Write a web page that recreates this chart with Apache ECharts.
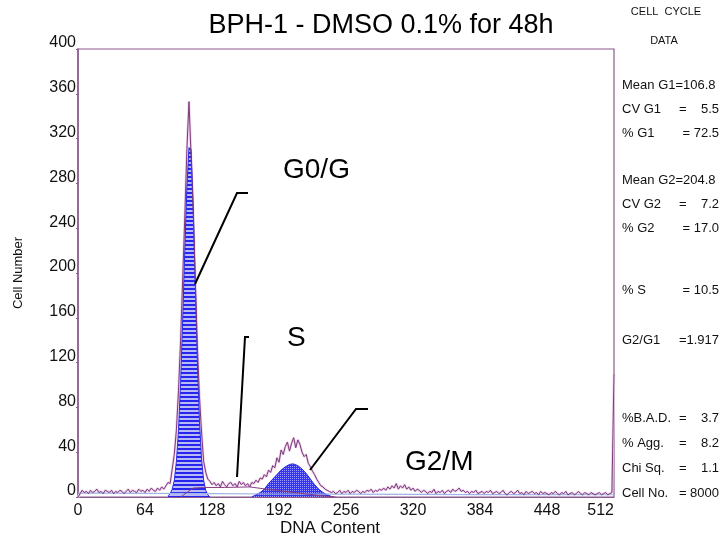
<!DOCTYPE html>
<html>
<head>
<meta charset="utf-8">
<script src="https://cdn.jsdelivr.net/npm/echarts@6/dist/echarts.min.js"></script>
<style>
  html, body { margin: 0; padding: 0; background: #fff; }
  #chart { width: 725px; height: 541px; }
</style>
</head>
<body>
<div id="chart"></div>
<script>
// ---- Histogram data (DNA content channels, 2-channel bins) ----
const CHANNEL_STEP = 2;
const rawCounts = [
  0, 3, 6, 4, 5, 3, 6, 4, 5, 7, 4, 5, 3, 6, 5, 4,            // 0-30
  6, 3, 5, 4, 6, 5, 3, 5, 7, 4, 6, 5, 4, 7, 5, 6,            // 32-62
  4, 7, 5, 8, 6, 5, 8, 6, 9, 7, 10, 13, 12, 25, 38, 60,      // 64-94
  95, 140, 195, 250, 310, 353, 305, 255, 195, 135, 90, 58, 32, 22, 16, 14, // 96-126
  11, 13, 10, 12, 9, 14, 11, 9, 12, 13, 10, 12, 9, 14, 11, 13, // 128-158
  10, 12, 9, 13, 12, 15, 13, 17, 16, 20, 18, 24, 22, 28, 26, 35, // 160-190
  31, 42, 38, 45, 49, 41, 48, 53, 44, 51, 47, 40, 36, 38, 30, 27, // 192-222
  23, 20, 16, 13, 10, 9, 7, 6, 5, 4, 5, 3, 4, 6, 3, 5,       // 224-254
  4, 6, 3, 5, 4, 6, 5, 3, 5, 4, 6, 5, 7, 4, 6, 5,            // 256-286
  7, 6, 8, 6, 9, 7, 10, 8, 12, 7, 10, 8, 11, 7, 9, 6,        // 288-318
  8, 5, 7, 6, 4, 6, 5, 3, 5, 4, 7, 3, 5, 4, 6, 3,            // 320-350
  5, 6, 4, 7, 5, 6, 8, 5, 6, 4, 5, 3, 5, 4, 6, 3,            // 352-382
  4, 5, 3, 5, 4, 6, 3, 4, 5, 3, 4, 6, 3, 2, 4, 5,            // 384-414
  3, 4, 6, 3, 4, 2, 5, 3, 4, 5, 3, 4, 2, 5, 3, 4,            // 416-446
  3, 2, 4, 3, 5, 3, 2, 4, 3, 5, 2, 3, 4, 2, 3, 5,            // 448-478
  3, 2, 4, 3, 2, 4, 3, 2, 3, 4, 2, 3, 4, 2, 3, 4,            // 480-510
  110                                                        // 512
];
const rawChannels = rawCounts.map((_, i) => i * CHANNEL_STEP);

// G0/G1 model peak
const g1Channels = [86, 88, 90, 92, 94, 96, 98, 100, 102, 104, 106, 108, 110, 112, 114, 116, 118, 120, 122, 124, 126];
const g1Counts   = [1, 3, 7, 15, 32, 60, 102, 158, 220, 276, 312, 310, 262, 192, 122, 68, 34, 15, 6, 2, 0];

// G2/M model peak
const g2Channels = [166, 170, 174, 178, 182, 186, 190, 194, 198, 202, 204, 206, 210, 214, 218, 222, 226, 230, 234, 238, 242, 244];
const g2Counts   = [0, 2, 4, 7, 12, 16, 20, 24, 27, 29, 29.5, 29.5, 28, 25, 21, 16, 11, 7, 4, 2, 0.5, 0];

// S-phase model
const sChannels = [98, 104, 110, 120, 140, 164, 180, 200, 220, 240, 246];
const sCounts   = [0, 4, 8, 8.5, 8.5, 9, 7, 4.8, 2.4, 0.3, 0];

// Debris baseline
const debrisChannels = [0, 64, 128, 192, 256, 320, 384, 448, 512];
const debrisCounts   = [3.5, 3.2, 3.0, 2.7, 2.5, 2.3, 2.2, 2.1, 2.0];

// Axis ticks
const xTickLabels = [0, 64, 128, 192, 256, 320, 384, 448, 512];
const yTickLabels = [0, 40, 80, 120, 160, 200, 240, 280, 320, 360, 400];

// Side panel statistics
const statTitle = ['CELL  CYCLE', 'DATA'];
const statLabels = ['Mean G1=106.8', 'CV G1', '% G1', 'Mean G2=204.8', 'CV G2', '% G2',
                    '% S', 'G2/G1', '%B.A.D.', '% Agg.', 'Chi Sq.', 'Cell No.'];
const statValues = ['', '=    5.5', '= 72.5', '', '=    7.2', '= 17.0',
                    '= 10.5', '=1.917', '=    3.7', '=    8.2', '=    1.1', '= 8000'];

const pair = (xs, ys) => xs.map((x, i) => [x, ys[i]]);

// ---- Fill patterns ----
function stripePattern() {
  const c = document.createElement('canvas');
  c.width = 4; c.height = 4;
  const g = c.getContext('2d');
  g.fillStyle = '#b9b9f6'; g.fillRect(0, 0, 4, 4);
  g.fillStyle = '#2626ee'; g.fillRect(0, 0, 4, 2);
  return c;
}
function dotPattern() {
  const c = document.createElement('canvas');
  c.width = 2; c.height = 2;
  const g = c.getContext('2d');
  g.fillStyle = '#3434f2'; g.fillRect(0, 0, 2, 2);
  g.fillStyle = '#9c9cff'; g.fillRect(0, 0, 1, 1);
  return c;
}

const FONT = '"Liberation Sans", Arial, Helvetica, sans-serif';
const FRAME = '#8c5a8e';

const chart = echarts.init(document.getElementById('chart'), null, { renderer: 'canvas' });

// side panel text
const panelY = [85, 109, 133, 180, 204, 228, 290, 340, 418, 443, 468, 493];
const panelGraphics = [];
panelGraphics.push({ type: 'text', x: 666, y: 12, style: { text: statTitle[0], font: '11px ' + FONT, fill: '#111', align: 'center', verticalAlign: 'middle' } });
panelGraphics.push({ type: 'text', x: 664, y: 41, style: { text: statTitle[1], font: '11px ' + FONT, fill: '#111', align: 'center', verticalAlign: 'middle' } });
statLabels.forEach((t, i) => {
  panelGraphics.push({ type: 'text', x: 622, y: panelY[i], style: { text: t, font: '13px ' + FONT, fill: '#111', align: 'left', verticalAlign: 'middle' } });
  if (statValues[i]) {
    panelGraphics.push({ type: 'text', x: 719, y: panelY[i], style: { text: statValues[i], font: '13px ' + FONT, fill: '#111', align: 'right', verticalAlign: 'middle' } });
  }
});

// phase annotations with leader lines
const annot = [
  { text: 'G0/G', x: 283, y: 170, pts: [[195, 284], [237, 193], [248, 193]] },
  { text: 'S',    x: 287, y: 338, pts: [[237, 477], [245, 337], [249, 337]] },
  { text: 'G2/M', x: 405, y: 462, pts: [[310, 470], [356, 409], [368, 409]] }
];
const annotGraphics = [];
annot.forEach(a => {
  annotGraphics.push({ type: 'polyline', z: 100, shape: { points: a.pts }, style: { stroke: '#000', lineWidth: 2, fill: null } });
  annotGraphics.push({ type: 'text', z: 100, x: a.x, y: a.y, style: { text: a.text, font: '28px ' + FONT, fill: '#000', align: 'left', verticalAlign: 'middle' } });
});

const option = {
  animation: false,
  backgroundColor: '#ffffff',
  grid: { left: 78, right: 111, top: 49, bottom: 44, show: true, borderColor: FRAME, borderWidth: 1.2, backgroundColor: 'transparent' },
  xAxis: {
    type: 'value',
    min: xTickLabels[0], max: xTickLabels[xTickLabels.length - 1],
    interval: xTickLabels[1] - xTickLabels[0],
    axisLine: { show: true, lineStyle: { color: FRAME, width: 1.2 } },
    axisTick: { show: false },
    splitLine: { show: false },
    axisLabel: { fontSize: 16, fontFamily: FONT, color: '#111', margin: 6, alignMaxLabel: 'right' }
  },
  yAxis: {
    type: 'value',
    min: yTickLabels[0], max: yTickLabels[yTickLabels.length - 1],
    interval: yTickLabels[1] - yTickLabels[0],
    axisLine: { show: true, lineStyle: { color: FRAME, width: 1.5 } },
    axisTick: { show: true, length: 2, lineStyle: { color: FRAME } },
    splitLine: { show: false },
    axisLabel: { fontSize: 16, fontFamily: FONT, color: '#111', margin: 2, verticalAlign: 'bottom', lineHeight: 12 }
  },
  series: [
    { // halo under raw histogram
      type: 'line', data: pair(rawChannels, rawCounts), symbol: 'none', silent: true, z: 1,
      lineStyle: { color: '#ecd0ea', width: 2.5 }
    },
    {
      name: 'G1', type: 'line', data: pair(g1Channels, g1Counts), symbol: 'none', z: 2,
      lineStyle: { color: '#2a2ae6', width: 1 },
      areaStyle: { color: { image: stripePattern(), repeat: 'repeat' }, opacity: 1 }
    },
    {
      name: 'G2', type: 'line', data: pair(g2Channels, g2Counts), symbol: 'none', z: 2,
      lineStyle: { color: '#2a2ae6', width: 1 },
      areaStyle: { color: { image: dotPattern(), repeat: 'repeat' }, opacity: 1 }
    },
    {
      name: 'Debris', type: 'line', data: pair(debrisChannels, debrisCounts), symbol: 'none', z: 3,
      lineStyle: { color: '#9fb4e6', width: 1.2 }
    },
    {
      name: 'S', type: 'line', data: pair(sChannels, sCounts), symbol: 'none', z: 4,
      lineStyle: { color: '#8a3f82', width: 1 }
    },
    {
      name: 'Data', type: 'line', data: pair(rawChannels, rawCounts), symbol: 'none', z: 5,
      lineStyle: { color: '#7a3a7a', width: 1 }
    }
  ],
  graphic: [
    { type: 'text', x: 381, y: 26, style: { text: 'BPH-1 - DMSO 0.1% for 48h', font: '27px ' + FONT, fill: '#000', align: 'center', verticalAlign: 'middle' } },
    { type: 'text', x: 18, y: 273, rotation: Math.PI / 2, style: { text: 'Cell Number', font: '13px ' + FONT, fill: '#111', align: 'center', verticalAlign: 'middle' } },
    { type: 'text', x: 330, y: 528, style: { text: 'DNA Content', font: '17px ' + FONT, fill: '#111', align: 'center', verticalAlign: 'middle' } }
  ].concat(panelGraphics, annotGraphics)
};

chart.setOption(option);
</script>
</body>
</html>
